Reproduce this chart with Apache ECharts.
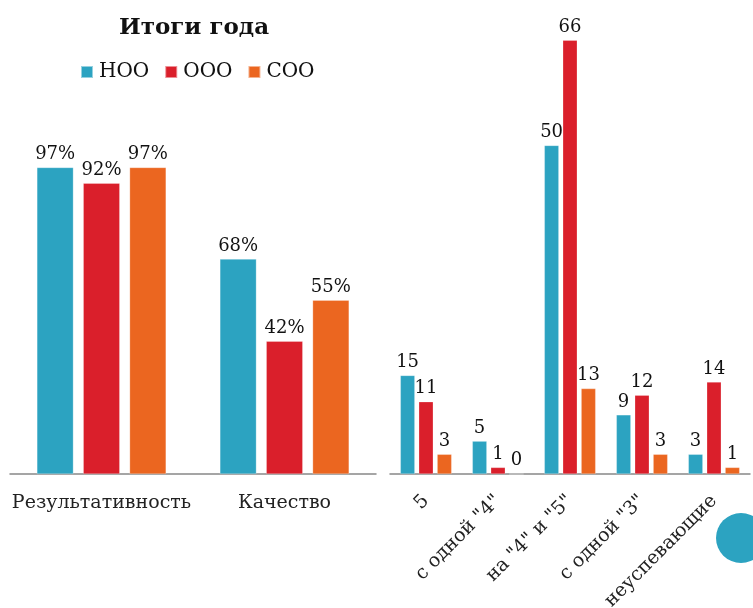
<!DOCTYPE html>
<html><head><meta charset="utf-8">
<script src="https://cdn.jsdelivr.net/npm/echarts@6/dist/echarts.min.js"></script>
<style>html,body{margin:0;padding:0;background:#fff}#c{width:753px;height:608px}</style>
</head><body><div id="c"></div>
<script>
const seriesNames = ['НОО', 'ООО', 'СОО'];
const leftCategories = ['Результативность', 'Качество'];
const leftNOO = [97, 68];
const leftOOO = [92, 42];
const leftSOO = [97, 55];
const rightCategories = ['5', 'с одной "4"', 'на "4" и "5"', 'с одной "3"', 'неуспевающие'];
const rightNOO = [15, 5, 50, 9, 3];
const rightOOO = [11, 1, 66, 12, 14];
const rightSOO = [3, 0, 13, 3, 1];
const colors = ['#2CA3C1', '#DA1F2B', '#EB6620'];
const font = "'DejaVu Serif', serif";

const chart = echarts.init(document.getElementById('c'));
function mk(name, data, idx, color, pct, bw) {
  return {
    name: name, type: 'bar', xAxisIndex: idx, yAxisIndex: idx, data: data,
    barWidth: bw, barGap: '27%',
    itemStyle: { color: color, borderColor: 'rgba(255,255,255,0.5)', borderWidth: 0.5 },
    label: { show: true, position: 'top', distance: 4, color: '#111', fontFamily: font, fontSize: 18,
      formatter: pct ? '{c}%' : '{c}' },
    animation: false
  };
}
chart.setOption({
  animation: false,
  title: { text: 'Итоги года', left: 189, top: 12, textAlign: 'center',
    textStyle: { fontFamily: font, fontWeight: 'bold', fontSize: 23, color: '#111' } },
  legend: { data: seriesNames, left: 75, top: 57, itemWidth: 12, itemHeight: 12, itemGap: 15, icon: 'rect',
    textStyle: { fontFamily: font, fontSize: 20, color: '#111', padding: [0, 0, 0, 1] } },
  grid: [
    { left: 10, width: 366, top: 158, bottom: 134, outerBoundsMode: 'none', containLabel: false },
    { left: 390, width: 360, top: 14, bottom: 134, outerBoundsMode: 'none', containLabel: false }
  ],
  xAxis: [
    { type: 'category', gridIndex: 0, data: leftCategories,
      axisLine: { lineStyle: { color: '#888', width: 1.5 } }, axisTick: { show: false },
      axisLabel: { fontFamily: font, fontSize: 19, color: '#222', margin: 20, interval: 0 } },
    { type: 'category', gridIndex: 1, data: rightCategories,
      axisLine: { lineStyle: { color: '#888', width: 1.5 } }, axisTick: { show: false },
      axisLabel: { fontFamily: font, fontSize: 19, color: '#222', rotate: 45, margin: 24, interval: 0 } }
  ],
  yAxis: [
    { type: 'value', gridIndex: 0, min: 0, max: 100, show: false, splitLine: { show: false } },
    { type: 'value', gridIndex: 1, min: 0, max: 70, show: false, splitLine: { show: false } }
  ],
  series: [
    mk(seriesNames[0], leftNOO, 0, colors[0], true, 36.5),
    mk(seriesNames[1], leftOOO, 0, colors[1], true, 36.5),
    mk(seriesNames[2], leftSOO, 0, colors[2], true, 36.5),
    mk(seriesNames[0], rightNOO, 1, colors[0], false, 14.5),
    mk(seriesNames[1], rightOOO, 1, colors[1], false, 14.5),
    mk(seriesNames[2], rightSOO, 1, colors[2], false, 14.5)
  ],
  graphic: [
    { type: 'circle', shape: { cx: 741, cy: 538, r: 25 }, style: { fill: '#2CA3C1' }, silent: true }
  ]
});
</script></body></html>
